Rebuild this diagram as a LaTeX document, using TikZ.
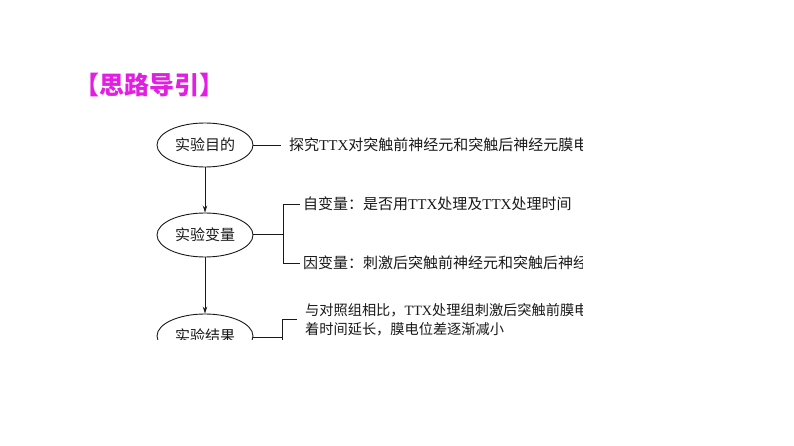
\documentclass[tikz,border=0pt]{standalone}
\usepackage{fontspec}
\setmainfont{Liberation Serif}
\newfontfamily\cjk{Noto Sans CJK SC}
\usetikzlibrary{shapes.geometric,arrows.meta}
\definecolor{titlemag}{RGB}{226,30,226}
\definecolor{ink}{RGB}{25,25,25}
\tikzset{
  oval/.style={ellipse,draw=ink,line width=0.9pt,minimum width=96pt,minimum height=44pt,inner sep=0pt,
    font=\cjk\fontsize{15}{18}\selectfont,text=ink},
  txt/.style={anchor=west,inner sep=0pt,font=\fontsize{15}{19}\selectfont,text=ink,align=left},
  conn/.style={draw=ink,line width=0.9pt},
  arr/.style={conn,-{Stealth[length=7pt,width=4.5pt]}}
}
\begin{document}
\begin{tikzpicture}[x=1pt,y=-1pt]
\useasboundingbox[fill=white] (0,0) rectangle (794,446);
\node[font=\cjk\bfseries\fontsize{25}{25}\selectfont,text=titlemag,inner sep=0pt] (title) at (149,85) {【思路导引】};
\begin{scope}
\clip (140,105) rectangle (582,339);
\node[oval] (e1) at (205,145) {实验目的};
\node[oval] (e2) at (205,235) {实验变量};
\node[oval] (e3) at (205,336) {实验结果};
\draw[arr] (e1.south) -- (e2.north);
\draw[arr] (e2.south) -- (e3.north);
% row 1
\node[txt] (t1) at (289,145) {{\cjk 探究}TTX{\cjk 对突触前神经元和突触后神经元膜电}};
\coordinate (c1) at (281,145);
\draw[conn] (e1.east) -- (c1);
% row 2 bracket
\node[txt] (t2) at (303,204) {{\cjk 自变量：是否用}TTX{\cjk 处理及}TTX{\cjk 处理时间}};
\node[txt] (t3) at (303,263) {{\cjk 因变量：刺激后突触前神经元和突触后神经}};
\coordinate (b2) at (283,234);
\coordinate (b2t) at (283,204);
\coordinate (b2b) at (283,263);
\coordinate (c2t) at (300,204);
\coordinate (c2b) at (300,263);
\draw[conn] (e2.east |- b2) -- (b2);
\draw[conn] (c2t) -- (b2t) -- (b2b) -- (c2b);
% results
\node[txt,font=\fontsize{14.2}{19}\selectfont] (t4) at (305,310) {{\cjk 与对照组相比，}TTX{\cjk 处理组刺激后突触前膜电}};
\node[txt,font=\fontsize{14.2}{19}\selectfont] (t5) at (305,329) {{\cjk 着时间延长，膜电位差逐渐减小}};
\coordinate (b3) at (282,337);
\coordinate (b3t) at (282,319);
\coordinate (c3t) at (297,319);
\coordinate (b3b) at (282,360);
\draw[conn] (e3.east |- b3) -- (b3);
\draw[conn] (c3t) -- (b3t) -- (b3b);
\end{scope}
\end{tikzpicture}
\end{document}
